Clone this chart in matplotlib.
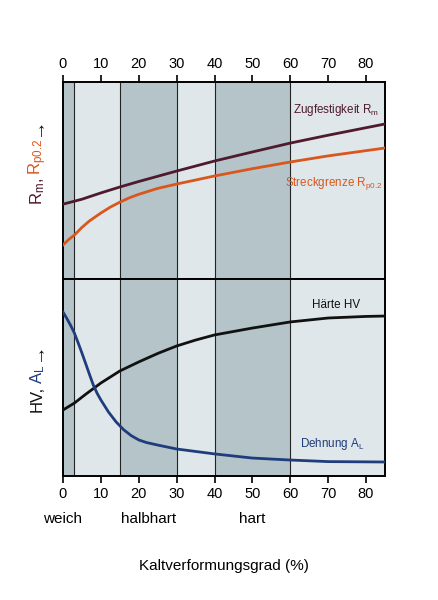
import matplotlib
matplotlib.use("Agg")
import matplotlib.pyplot as plt

plt.rcParams['font.family'] = ['Liberation Sans Narrow', 'Liberation Sans', 'DejaVu Sans']
plt.rcParams['mathtext.default'] = 'regular'

# Daten (relative Skala 0..1)
x_rm = [0, 5, 10, 15, 20, 30, 40, 50, 60, 70, 85]
rm = [0.38, 0.405, 0.437, 0.467, 0.495, 0.548, 0.599, 0.645, 0.69, 0.73, 0.787]

x_rp = [0, 1.5, 3, 5, 7, 10, 12.5, 15, 17.5, 20, 25, 30, 40, 50, 60, 70, 85]
rp = [0.173, 0.2, 0.223, 0.262, 0.295, 0.335, 0.365, 0.39, 0.412, 0.43, 0.46, 0.482, 0.523, 0.56, 0.594, 0.625, 0.665]

x_hv = [0, 3, 6, 10, 15, 20, 25, 30, 35, 40, 50, 60, 70, 80, 85]
hv = [0.335, 0.37, 0.415, 0.472, 0.533, 0.579, 0.622, 0.66, 0.69, 0.716, 0.751, 0.782, 0.802, 0.81, 0.812]

x_al = [0, 1, 2, 3, 4, 5, 6, 7, 8, 9, 10, 12, 14, 16, 18, 20, 22, 25, 30, 40, 50, 60, 70, 85]
al = [0.832, 0.80, 0.765, 0.726, 0.676, 0.624, 0.57, 0.515, 0.462, 0.42, 0.386, 0.325, 0.275, 0.235,
      0.205, 0.183, 0.17, 0.157, 0.137, 0.112, 0.091, 0.081, 0.073, 0.071]

bands = [(0, 3, 'dark'), (3, 15, 'light'), (15, 30, 'dark'), (30, 40, 'light'), (40, 60, 'dark'), (60, 85, 'light')]
band_edges = [3, 15, 30, 40, 60]
ticks = [0, 10, 20, 30, 40, 50, 60, 70, 80]
zustand = [('weich', 0), ('halbhart', 22.5), ('hart', 50)]

col_dark = '#b4c4c9'
col_light = '#e0e7ea'
col_rm = '#4e1a2c'
col_rp = '#d9571c'
col_hv = '#111111'
col_al = '#1f3c7c'

fig = plt.figure(figsize=(4.39, 6.0), dpi=100)
ax1 = fig.add_axes([0.1435, 0.535, 0.7335, 0.3283])
ax2 = fig.add_axes([0.1435, 0.2067, 0.7335, 0.3283])

for ax in (ax1, ax2):
    for a, b, kind in bands:
        ax.axvspan(a, b, color=col_dark if kind == 'dark' else col_light, lw=0, zorder=0)
    for e in band_edges:
        ax.axvline(e, color='#222222', lw=0.8, zorder=1)
    ax.set_xlim(0, 85)
    ax.set_ylim(0, 1)
    ax.set_yticks([])
    ax.set_xticks(ticks)
    for s in ax.spines.values():
        s.set_linewidth(1.4)
    ax.tick_params(axis='x', direction='out', length=5, width=1.2, labelsize=10.5, pad=3)

ax1.xaxis.tick_top()
ax2.xaxis.tick_bottom()

ax1.plot(x_rm, rm, color=col_rm, lw=2, zorder=3)
ax1.plot(x_rp, rp, color=col_rp, lw=2, zorder=3)
ax2.plot(x_hv, hv, color=col_hv, lw=2, zorder=3)
ax2.plot(x_al, al, color=col_al, lw=2, zorder=3)

ax1.text(83.5, 0.86, 'Zugfestigkeit $R_m$', color=col_rm, fontsize=8.4, ha='right', va='center')
ax1.text(84.5, 0.485, 'Streckgrenze $R_{p0.2}$', color=col_rp, fontsize=8.4, ha='right', va='center')
ax2.text(78.5, 0.87, 'Härte HV', color=col_hv, fontsize=8.4, ha='right', va='center')
ax2.text(79.5, 0.16, 'Dehnung $A_L$', color=col_al, fontsize=8.4, ha='right', va='center')


# y-Achsenbeschriftungen (mehrfarbig, gedreht), Stück für Stück nach oben gesetzt
def farbiger_ylabel(teile, x0, y0):
    renderer = fig.canvas.get_renderer()
    y = y0
    for txt, col, fs in teile:
        t = fig.text(x0, y, txt, color=col, fontsize=fs, rotation=90, ha='center', va='bottom')
        bb = t.get_window_extent(renderer=renderer)
        y = y + bb.height / fig.bbox.height + 0.004


farbiger_ylabel([('$R_m$,', col_rm, 12), ('$R_{p0.2}$', col_rp, 12), ('→', '#111111', 14)], 0.085, 0.658)
farbiger_ylabel([('HV,', col_hv, 12), ('$A_L$', col_al, 12), ('→', '#111111', 14)], 0.085, 0.313)

for name, xpos in zustand:
    ax2.text(xpos, -0.22, name, fontsize=11, ha='center', va='center', transform=ax2.get_xaxis_transform())

fig.text(0.51, 0.057, 'Kaltverformungsgrad (%)', fontsize=11, ha='center', va='center')

fig.savefig('out.png', dpi=100, facecolor='white')
